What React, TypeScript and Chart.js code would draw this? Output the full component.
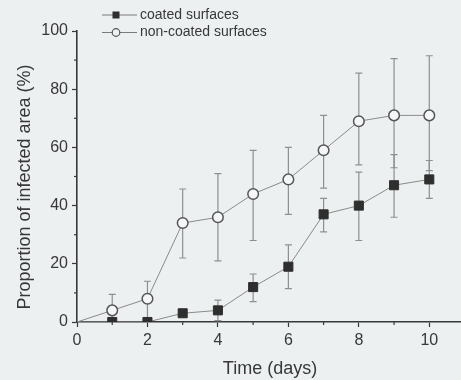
import { useEffect, useRef } from "react";
import { Chart, registerables } from "chart.js";

Chart.register(...registerables);

const days = [0, 1, 2, 3, 4, 5, 6, 7, 8, 9, 10];
const coated = [0, 0, 0, 3, 4, 12, 19, 37, 40, 47, 49];
const coatedUpper = [null, null, null, 4, 7.5, 16.5, 26.5, 42.5, 51.5, 57.5, 55.5];
const coatedLower = [null, null, null, 2, 0.5, 7, 11.5, 31, 28, 36, 42.5];
const nonCoated = [0, 4, 8, 34, 36, 44, 49, 59, 69, 71, 71];
const nonCoatedUpper = [null, 9.5, 14, 45.7, 51, 59, 60, 71, 85.5, 90.5, 91.5];
const nonCoatedLower = [null, 0, 0, 22, 21, 28, 37, 46, 54, 53, 52];
const seriesLabels = ["coated surfaces", "non-coated surfaces"];
const xTicks = [0, 2, 4, 6, 8, 10];
const xMinorTicks = [1, 3, 5, 7, 9];
const yTicks = [0, 20, 40, 60, 80, 100];
const yMinorTicks = [10, 30, 50, 70, 90];
const xTitle = "Time (days)";
const yTitle = "Proportion of infected area (%)";

const BG = "#edf0f1";
const INK = "#383838";
const FONT = "'Liberation Sans', Arial, sans-serif";

const errorBars = [
  { upper: coatedUpper, lower: coatedLower },
  { upper: nonCoatedUpper, lower: nonCoatedLower },
];

export default function App() {
  const ref = useRef<HTMLCanvasElement>(null);
  useEffect(() => {
    document.body.style.margin = "0";
    const canvas = ref.current!;
    const plugin = {
      id: "custom",
      beforeDraw(chart: any) {
        const ctx = chart.ctx;
        ctx.save();
        ctx.fillStyle = BG;
        ctx.fillRect(0, 0, chart.width, chart.height);
        ctx.restore();
      },
      beforeDatasetsDraw(chart: any) {
        const ctx = chart.ctx;
        const xs = chart.scales.x;
        const ys = chart.scales.y;
        ctx.save();
        ctx.strokeStyle = "#8f8f8f";
        ctx.lineWidth = 1.2;
        errorBars.forEach((eb, di) => {
          days.forEach((d, i) => {
            const x = xs.getPixelForValue(d);
            const vals = di === 0 ? coated : nonCoated;
            const yv = ys.getPixelForValue(vals[i]);
            [eb.upper[i], eb.lower[i]].forEach((v) => {
              if (v === null || v === undefined) return;
              const yp = ys.getPixelForValue(v);
              ctx.beginPath();
              ctx.moveTo(x, yv);
              ctx.lineTo(x, yp);
              ctx.moveTo(x - 3.5, yp);
              ctx.lineTo(x + 3.5, yp);
              ctx.stroke();
            });
          });
        });
        ctx.restore();
      },
      afterDraw(chart: any) {
        const ctx = chart.ctx;
        const xs = chart.scales.x;
        const ys = chart.scales.y;
        const area = chart.chartArea;
        ctx.save();
        // minor ticks
        ctx.strokeStyle = INK;
        ctx.lineWidth = 1.2;
        xMinorTicks.forEach((v) => {
          const x = xs.getPixelForValue(v);
          ctx.beginPath();
          ctx.moveTo(x, area.bottom);
          ctx.lineTo(x, area.bottom + 3);
          ctx.stroke();
        });
        yMinorTicks.forEach((v) => {
          const y = ys.getPixelForValue(v);
          ctx.beginPath();
          ctx.moveTo(area.left, y);
          ctx.lineTo(area.left - 3, y);
          ctx.stroke();
        });
        // titles
        ctx.fillStyle = INK;
        ctx.font = `18px ${FONT}`;
        ctx.textAlign = "center";
        ctx.textBaseline = "middle";
        ctx.fillText(xTitle, 270, 369);
        ctx.save();
        ctx.translate(25, 187);
        ctx.rotate(-Math.PI / 2);
        ctx.fillText(yTitle, 0, 0);
        ctx.restore();
        // legend
        ctx.font = `14px ${FONT}`;
        ctx.textAlign = "left";
        seriesLabels.forEach((label, i) => {
          const y = 15 + i * 17.5;
          ctx.strokeStyle = "#7a7a7a";
          ctx.lineWidth = 1;
          ctx.beginPath();
          ctx.moveTo(102, y);
          ctx.lineTo(137, y);
          ctx.stroke();
          if (i === 0) {
            ctx.fillStyle = "#2e2e2e";
            ctx.fillRect(116 - 3.5, y - 3.5, 7, 7);
          } else {
            ctx.beginPath();
            ctx.arc(116, y, 3.8, 0, Math.PI * 2);
            ctx.fillStyle = BG;
            ctx.fill();
            ctx.strokeStyle = "#555";
            ctx.lineWidth = 1.2;
            ctx.stroke();
          }
          ctx.fillStyle = INK;
          ctx.fillText(label, 140, y);
        });
        ctx.restore();
      },
    };

    const chart = new Chart(canvas, {
      type: "line",
      data: {
        datasets: [
          {
            label: seriesLabels[0],
            data: days.map((d, i) => ({ x: d, y: coated[i] })),
            borderColor: "#8a8a8a",
            borderWidth: 1,
            pointStyle: "rect",
            pointRadius: (c: any) => (c.dataIndex === 0 ? 0 : 6.4),
            pointBackgroundColor: "#2e2e2e",
            pointBorderColor: "#2e2e2e",
            pointBorderWidth: 1,
            tension: 0,
          },
          {
            label: seriesLabels[1],
            data: days.map((d, i) => ({ x: d, y: nonCoated[i] })),
            borderColor: "#8a8a8a",
            borderWidth: 1,
            pointStyle: "circle",
            pointRadius: (c: any) => (c.dataIndex === 0 ? 0 : 5.3),
            pointBackgroundColor: "#f4f6f7",
            pointBorderColor: "#555555",
            pointBorderWidth: 1.5,
            tension: 0,
          },
        ],
      },
      options: {
        responsive: false,
        animation: false,
        devicePixelRatio: 1,
        layout: { autoPadding: false, padding: { top: 31, left: 0, right: 0, bottom: 0 } },
        plugins: { legend: { display: false }, tooltip: { enabled: false } },
        scales: {
          x: {
            type: "linear",
            min: 0,
            max: 10.9,
            afterBuildTicks: (s: any) => {
              s.ticks = xTicks.map((v) => ({ value: v }));
            },
            afterFit: (s: any) => {
              s.height = 58;
              s.paddingRight = 0;
              s.paddingLeft = 0;
            },
            grid: {
              display: true,
              drawOnChartArea: false,
              drawTicks: true,
              tickLength: 5,
              tickColor: INK,
              tickWidth: 1.2,
            },
            border: { display: true, color: INK, width: 1.6 },
            ticks: {
              color: INK,
              font: { size: 16, family: FONT },
              padding: 4,
              maxRotation: 0,
              autoSkip: false,
            },
          },
          y: {
            type: "linear",
            min: 0,
            max: 100,
            afterBuildTicks: (s: any) => {
              s.ticks = yTicks.map((v) => ({ value: v }));
            },
            afterFit: (s: any) => {
              s.width = 77;
            },
            grid: {
              display: true,
              drawOnChartArea: false,
              drawTicks: true,
              tickLength: 5,
              tickColor: INK,
              tickWidth: 1.2,
            },
            border: { display: true, color: INK, width: 1.6 },
            ticks: {
              color: INK,
              font: { size: 16, family: FONT },
              padding: 4,
              autoSkip: false,
            },
          },
        },
      },
      plugins: [plugin],
    } as any);
    return () => chart.destroy();
  }, []);
  return (
    <div style={{ width: 461, height: 380, background: BG }}>
      <canvas ref={ref} width={461} height={380} style={{ display: "block" }} />
    </div>
  );
}
